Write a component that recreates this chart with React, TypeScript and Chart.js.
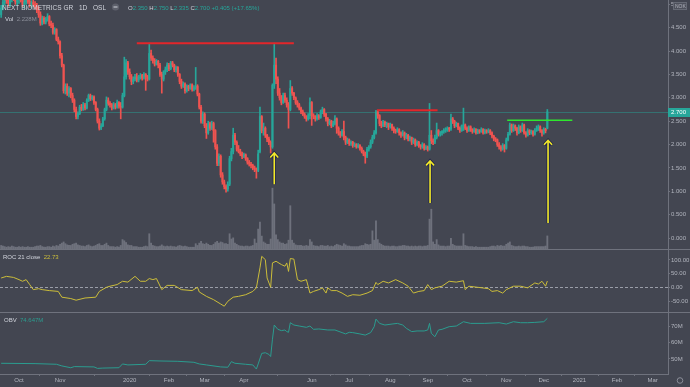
import React, { useEffect, useRef } from 'react';
import { Chart, registerables } from 'chart.js';

Chart.register(...registerables);

// ---- data (bar index 0 = first trading day of Oct 2019) ----
const firstIndex = -10;

const opens = [
  4.78, 4.92, 5.05, 5.12, 5.08, 5.02, 5.10, 5.22, 5.12, 5.05,
  5.10, 5.15, 5.08, 5.00, 5.05, 5.12, 5.06, 4.98, 5.04, 5.00,
  4.95, 4.88, 4.78, 4.60, 4.70, 4.62, 4.68, 4.74, 4.58, 4.55,
  4.40, 4.46, 4.25, 4.20, 3.90, 3.70, 3.15, 3.25, 3.10, 3.20,
  3.05, 2.95, 2.75, 2.60, 2.66, 2.80, 2.75, 2.85, 2.78, 2.95,
  3.05, 2.98, 3.02, 2.90, 2.75, 2.50, 2.35, 2.40, 2.55, 2.75,
  2.95, 2.88, 2.85, 2.78, 2.85, 2.80, 2.90, 2.82, 2.80, 3.05,
  3.45, 3.75, 3.55, 3.45, 3.35, 3.40, 3.45, 3.38, 3.44, 3.48,
  3.42, 3.50, 3.45, 3.40, 3.95, 3.85, 3.80, 3.72, 3.78, 3.70,
  3.50, 3.40, 3.55, 3.60, 3.70, 3.62, 3.75, 3.70, 3.60, 3.65,
  3.50, 3.35, 3.25, 3.30, 3.15, 3.25, 3.20, 3.28, 3.18, 3.22,
  3.25, 3.08, 2.80, 2.50, 2.65, 2.40, 2.25, 2.45, 2.35, 2.45,
  2.30, 1.95, 1.60, 1.75, 1.35, 1.20, 1.10, 1.05, 1.15, 1.70,
  1.85, 2.20, 2.05, 1.90, 1.85, 1.80, 1.75, 1.78, 1.70, 1.62,
  1.58, 1.55, 1.50, 1.48, 1.45, 1.85, 2.60, 2.30, 2.35, 2.20,
  2.12, 2.05, 1.95, 3.27, 3.70, 3.40, 3.10, 3.00, 2.90, 3.05,
  2.95, 2.85, 2.75, 3.20, 3.10, 3.00, 2.90, 2.85, 2.78, 2.70,
  2.65, 2.60, 2.55, 2.62, 2.90, 2.62, 2.60, 2.55, 2.62, 2.58,
  2.70, 2.75, 2.65, 2.55, 2.45, 2.50, 2.40, 2.45, 2.55, 2.35,
  2.25, 2.20, 2.28, 2.15, 2.05, 2.10, 2.02, 2.05, 1.98, 2.00,
  1.95, 1.98, 1.92, 1.85, 1.80, 1.75, 1.90, 1.95, 2.05, 2.15,
  2.25, 2.70, 2.62, 2.45, 2.40, 2.48, 2.42, 2.45, 2.38, 2.43,
  2.35, 2.30, 2.28, 2.32, 2.25, 2.20, 2.25, 2.15, 2.20, 2.12,
  2.15, 2.05, 2.10, 2.00, 2.05, 1.98, 1.95, 2.00, 1.92, 1.95,
  1.90, 2.20, 2.08, 2.05, 2.15, 2.30, 2.22, 2.25, 2.28, 2.30,
  2.32, 2.35, 2.33, 2.55, 2.50, 2.40, 2.45, 2.35, 2.30, 2.40,
  2.42, 2.35, 2.30, 2.38, 2.32, 2.28, 2.32, 2.25, 2.30, 2.28,
  2.32, 2.25, 2.30, 2.27, 2.30, 2.25, 2.18, 2.12, 2.10, 2.00,
  1.95, 1.90, 1.98, 1.92, 2.10, 2.22, 2.42, 2.30, 2.40, 2.35,
  2.25, 2.38, 2.30, 2.42, 2.25, 2.20, 2.30, 2.25, 2.28, 2.22,
  2.30, 2.35, 2.38, 2.30, 2.25, 2.33, 2.35,
];

const highs = [
  4.98, 5.10, 5.20, 5.25, 5.18, 5.15, 5.30, 5.28, 5.20, 5.15,
  5.22, 5.25, 5.12, 5.10, 5.18, 5.20, 5.12, 5.08, 5.10, 5.06,
  5.02, 4.95, 4.84, 4.75, 4.74, 4.72, 4.80, 4.76, 4.64, 4.60,
  4.50, 4.48, 4.30, 4.22, 3.95, 3.72, 3.30, 3.30, 3.24, 3.22,
  3.10, 2.98, 2.80, 2.70, 2.84, 2.86, 2.90, 2.88, 2.98, 3.08,
  3.08, 3.05, 3.04, 2.92, 2.78, 2.55, 2.45, 2.58, 2.78, 3.02,
  3.00, 2.92, 2.88, 2.90, 2.88, 2.95, 2.92, 2.90, 3.10, 3.87,
  3.82, 3.78, 3.62, 3.50, 3.45, 3.50, 3.52, 3.48, 3.52, 3.50,
  3.54, 3.52, 3.48, 4.17, 4.02, 3.90, 3.84, 3.82, 3.80, 3.74,
  3.55, 3.58, 3.66, 3.75, 3.74, 3.78, 3.78, 3.72, 3.68, 3.67,
  3.52, 3.40, 3.34, 3.32, 3.28, 3.27, 3.30, 3.30, 3.26, 3.65,
  3.28, 3.10, 2.84, 2.70, 2.68, 2.45, 2.50, 2.48, 2.50, 2.48,
  2.32, 2.00, 1.80, 1.78, 1.40, 1.24, 1.14, 1.20, 1.75, 1.92,
  2.35, 2.24, 2.08, 1.98, 1.90, 1.84, 1.82, 1.80, 1.72, 1.66,
  1.62, 1.58, 1.54, 1.50, 1.88, 2.80, 2.62, 2.46, 2.38, 2.22,
  2.16, 2.08, 3.30, 4.17, 3.85, 3.45, 3.20, 3.05, 3.10, 3.10,
  3.00, 2.90, 3.37, 3.24, 3.12, 3.02, 2.94, 2.88, 2.80, 2.74,
  2.68, 2.62, 2.66, 3.00, 2.92, 2.66, 2.62, 2.66, 2.64, 2.74,
  2.80, 2.77, 2.67, 2.58, 2.54, 2.52, 2.50, 2.62, 2.57, 2.38,
  2.28, 2.32, 2.50, 2.18, 2.14, 2.12, 2.08, 2.07, 2.04, 2.02,
  2.02, 2.00, 1.95, 1.88, 1.84, 1.94, 1.98, 2.10, 2.20, 2.30,
  2.73, 2.72, 2.64, 2.50, 2.52, 2.50, 2.48, 2.46, 2.46, 2.44,
  2.38, 2.33, 2.36, 2.34, 2.27, 2.30, 2.27, 2.24, 2.22, 2.18,
  2.16, 2.14, 2.12, 2.08, 2.07, 2.00, 2.04, 2.02, 1.98, 1.97,
  2.88, 2.30, 2.12, 2.20, 2.46, 2.32, 2.28, 2.30, 2.34, 2.36,
  2.38, 2.37, 2.65, 2.58, 2.52, 2.48, 2.46, 2.38, 2.42, 2.78,
  2.44, 2.38, 2.40, 2.40, 2.34, 2.36, 2.34, 2.33, 2.32, 2.36,
  2.34, 2.33, 2.32, 2.34, 2.32, 2.27, 2.20, 2.15, 2.12, 2.04,
  1.98, 2.02, 2.00, 2.14, 2.26, 2.46, 2.44, 2.44, 2.42, 2.37,
  2.42, 2.40, 2.46, 2.44, 2.28, 2.34, 2.32, 2.31, 2.30, 2.34,
  2.40, 2.42, 2.40, 2.32, 2.36, 2.35, 2.75,
];

const lows = [
  4.72, 4.88, 4.98, 5.02, 4.96, 4.95, 5.05, 5.08, 5.00, 4.98,
  5.02, 5.05, 4.95, 4.92, 5.00, 5.02, 4.94, 4.92, 4.96, 4.90,
  4.82, 4.72, 4.55, 4.56, 4.58, 4.58, 4.64, 4.54, 4.50, 4.36,
  4.36, 4.22, 4.15, 3.85, 3.66, 3.10, 3.08, 3.05, 3.02, 3.00,
  2.90, 2.70, 2.55, 2.55, 2.64, 2.72, 2.73, 2.74, 2.76, 2.92,
  2.94, 2.95, 2.86, 2.72, 2.46, 2.31, 2.32, 2.38, 2.52, 2.72,
  2.84, 2.80, 2.74, 2.76, 2.76, 2.78, 2.78, 2.55, 2.78, 3.02,
  3.40, 3.50, 3.40, 3.28, 3.30, 3.36, 3.34, 3.34, 3.40, 3.38,
  3.40, 3.16, 3.36, 3.38, 3.80, 3.74, 3.68, 3.70, 3.64, 3.46,
  3.10, 3.36, 3.50, 3.56, 3.58, 3.60, 3.66, 3.56, 3.55, 3.46,
  3.30, 3.20, 3.22, 3.10, 3.12, 3.15, 3.18, 3.14, 3.15, 3.18,
  3.04, 2.76, 2.46, 2.45, 2.36, 2.13, 2.22, 2.30, 2.32, 2.05,
  1.90, 1.55, 1.55, 1.30, 1.15, 1.05, 0.98, 1.00, 1.12, 1.65,
  1.80, 2.00, 1.86, 1.82, 1.76, 1.70, 1.72, 1.66, 1.58, 1.54,
  1.50, 1.46, 1.42, 1.28, 1.42, 1.82, 2.25, 2.20, 2.15, 2.06,
  2.00, 1.82, 1.92, 3.20, 3.30, 3.05, 2.95, 2.85, 2.88, 2.90,
  2.80, 2.35, 2.72, 3.05, 2.96, 2.86, 2.80, 2.74, 2.66, 2.62,
  2.56, 2.50, 2.52, 2.55, 2.41, 2.55, 2.50, 2.52, 2.54, 2.56,
  2.66, 2.60, 2.50, 2.40, 2.42, 2.36, 2.38, 2.42, 2.24, 2.20,
  2.15, 2.18, 2.10, 2.00, 2.02, 1.98, 1.98, 1.94, 1.95, 1.92,
  1.93, 1.88, 1.82, 1.76, 1.60, 1.72, 1.86, 1.92, 2.02, 2.12,
  2.22, 2.56, 2.40, 2.36, 2.38, 2.38, 2.36, 2.32, 2.35, 2.30,
  2.25, 2.24, 2.26, 2.20, 2.15, 2.18, 2.10, 2.12, 2.08, 2.08,
  2.00, 2.02, 1.96, 1.97, 1.94, 1.90, 1.92, 1.88, 1.89, 1.86,
  1.88, 2.02, 2.00, 2.02, 2.12, 2.18, 2.18, 2.20, 2.24, 2.26,
  2.28, 2.28, 2.30, 2.45, 2.36, 2.38, 2.32, 2.26, 2.28, 2.30,
  2.32, 2.26, 2.28, 2.28, 2.24, 2.26, 2.22, 2.23, 2.24, 2.26,
  2.22, 2.23, 2.24, 2.25, 2.21, 2.14, 2.08, 2.06, 1.96, 1.90,
  1.86, 1.88, 1.84, 1.90, 2.08, 2.20, 2.26, 2.28, 2.30, 2.20,
  2.23, 2.26, 2.28, 2.22, 2.16, 2.18, 2.21, 2.22, 2.18, 2.20,
  2.28, 2.30, 2.26, 2.18, 2.22, 2.25, 2.335,
];

const closes = [
  4.92, 5.05, 5.12, 5.08, 5.02, 5.10, 5.22, 5.12, 5.05, 5.10,
  5.15, 5.08, 5.00, 5.05, 5.12, 5.06, 4.98, 5.04, 5.00, 4.95,
  4.88, 4.78, 4.60, 4.70, 4.62, 4.68, 4.74, 4.58, 4.55, 4.40,
  4.46, 4.25, 4.20, 3.90, 3.70, 3.15, 3.25, 3.10, 3.20, 3.05,
  2.95, 2.75, 2.60, 2.66, 2.80, 2.75, 2.85, 2.78, 2.95, 3.05,
  2.98, 3.02, 2.90, 2.75, 2.50, 2.35, 2.40, 2.55, 2.75, 2.95,
  2.88, 2.85, 2.78, 2.85, 2.80, 2.90, 2.82, 2.80, 3.05, 3.45,
  3.75, 3.55, 3.45, 3.35, 3.40, 3.45, 3.38, 3.44, 3.48, 3.42,
  3.50, 3.45, 3.40, 3.95, 3.85, 3.80, 3.72, 3.78, 3.70, 3.50,
  3.40, 3.55, 3.60, 3.70, 3.62, 3.75, 3.70, 3.60, 3.65, 3.50,
  3.35, 3.25, 3.30, 3.15, 3.25, 3.20, 3.28, 3.18, 3.22, 3.25,
  3.08, 2.80, 2.50, 2.65, 2.40, 2.25, 2.45, 2.35, 2.45, 2.30,
  1.95, 1.60, 1.75, 1.35, 1.20, 1.10, 1.05, 1.15, 1.70, 1.85,
  2.20, 2.05, 1.90, 1.85, 1.80, 1.75, 1.78, 1.70, 1.62, 1.58,
  1.55, 1.50, 1.48, 1.45, 1.80, 2.60, 2.30, 2.35, 2.20, 2.12,
  2.05, 1.95, 3.27, 3.70, 3.40, 3.10, 3.00, 2.90, 3.05, 2.95,
  2.85, 2.75, 3.20, 3.10, 3.00, 2.90, 2.85, 2.78, 2.70, 2.65,
  2.60, 2.55, 2.62, 2.90, 2.62, 2.60, 2.55, 2.62, 2.58, 2.70,
  2.75, 2.65, 2.55, 2.45, 2.50, 2.40, 2.45, 2.55, 2.35, 2.25,
  2.20, 2.28, 2.15, 2.05, 2.10, 2.02, 2.05, 1.98, 2.00, 1.95,
  1.98, 1.92, 1.85, 1.80, 1.75, 1.90, 1.95, 2.05, 2.15, 2.25,
  2.70, 2.62, 2.45, 2.40, 2.48, 2.42, 2.45, 2.38, 2.43, 2.35,
  2.30, 2.28, 2.32, 2.25, 2.20, 2.25, 2.15, 2.20, 2.12, 2.15,
  2.05, 2.10, 2.00, 2.05, 1.98, 1.95, 2.00, 1.92, 1.95, 1.90,
  2.20, 2.08, 2.05, 2.15, 2.30, 2.22, 2.25, 2.28, 2.30, 2.32,
  2.35, 2.33, 2.55, 2.50, 2.40, 2.45, 2.35, 2.30, 2.40, 2.42,
  2.35, 2.30, 2.38, 2.32, 2.28, 2.32, 2.25, 2.30, 2.28, 2.32,
  2.25, 2.30, 2.27, 2.30, 2.25, 2.18, 2.12, 2.10, 2.00, 1.95,
  1.90, 1.98, 1.92, 2.10, 2.22, 2.42, 2.30, 2.40, 2.35, 2.25,
  2.38, 2.30, 2.42, 2.25, 2.20, 2.30, 2.25, 2.28, 2.22, 2.30,
  2.35, 2.38, 2.30, 2.25, 2.33, 2.295, 2.70,
];

// volume, millions
const volumes = [
  0.6, 0.5, 0.4, 0.3, 0.4, 0.3, 0.5, 0.4, 0.3, 0.3,
  0.4, 0.3, 0.4, 0.3, 0.3, 0.4, 0.3, 0.3, 0.3, 0.4,
  0.5, 0.5, 0.6, 0.4, 0.3, 0.3, 0.4, 0.4, 0.3, 0.5,
  0.4, 0.6, 0.5, 0.8, 1.0, 1.2, 0.9, 0.7, 0.6, 0.6,
  0.8, 0.9, 1.0, 0.7, 0.6, 0.5, 0.5, 0.4, 0.6, 0.7,
  0.5, 0.4, 0.5, 0.6, 0.8, 0.9, 0.6, 0.6, 0.8, 1.0,
  0.6, 0.4, 0.4, 0.4, 0.3, 0.4, 0.3, 0.6, 1.6, 1.4,
  1.1, 0.7, 0.6, 0.6, 0.4, 0.4, 0.4, 0.3, 0.3, 0.3,
  0.4, 0.5, 0.4, 2.6, 1.0, 0.6, 0.5, 0.4, 0.4, 0.5,
  0.7, 0.5, 0.4, 0.5, 0.4, 0.5, 0.4, 0.4, 0.3, 0.5,
  0.6, 0.5, 0.4, 0.5, 0.4, 0.3, 0.3, 0.3, 0.3, 0.9,
  0.6, 1.0, 1.3, 0.9, 0.8, 1.0, 0.8, 0.6, 0.6, 0.8,
  1.1, 1.3, 1.0, 1.2, 1.1, 0.9, 0.9, 0.8, 2.6, 1.7,
  1.9, 1.0, 0.8, 0.6, 0.5, 0.5, 0.4, 0.5, 0.5, 0.4,
  0.5, 0.6, 1.7, 1.0, 3.4, 4.6, 2.2, 1.2, 1.0, 0.8,
  0.8, 1.7, 10.4, 7.7, 2.4, 1.6, 1.2, 1.0, 1.0, 0.8,
  0.9, 1.5, 7.4, 1.5, 1.0, 0.7, 0.6, 0.6, 0.6, 0.5,
  0.5, 0.6, 0.5, 1.6, 1.2, 0.6, 0.5, 0.5, 0.4, 0.6,
  0.6, 0.5, 0.5, 0.6, 0.4, 0.5, 0.4, 0.6, 0.8, 0.7,
  0.6, 0.5, 0.9, 0.7, 0.5, 0.5, 0.4, 0.4, 0.4, 0.4,
  0.4, 0.5, 0.6, 0.6, 0.9, 0.8, 0.7, 0.8, 3.1, 1.5,
  4.8, 1.6, 1.0, 0.8, 0.6, 0.5, 0.5, 0.5, 0.4, 0.5,
  0.5, 0.4, 0.4, 0.5, 0.5, 0.6, 0.6, 0.5, 0.5, 0.4,
  0.5, 0.4, 0.5, 0.4, 0.5, 0.5, 0.4, 0.5, 0.5, 0.6,
  5.1, 6.8, 1.2, 0.8, 1.6, 0.7, 0.5, 0.5, 0.5, 0.4,
  0.5, 0.5, 1.8, 0.8, 0.6, 0.5, 0.5, 0.5, 0.5, 2.6,
  0.6, 0.5, 0.4, 0.4, 0.4, 0.3, 0.4, 0.3, 0.3, 0.3,
  0.3, 0.3, 0.3, 0.3, 0.4, 0.5, 0.5, 0.4, 0.6, 0.5,
  0.6, 0.5, 0.5, 0.8, 1.0, 1.2, 0.6, 0.5, 0.4, 0.4,
  0.5, 0.4, 0.5, 0.5, 0.4, 0.4, 0.3, 0.3, 0.3, 0.4,
  0.4, 0.4, 0.4, 0.4, 0.4, 0.5, 2.228,
];

// ROC(21) of close, sampled at bar indices
const rocIdx = [
  -10, -7, -3, 0, 2, 4, 6, 8, 11, 13, 17, 22, 24, 29, 32, 37, 43, 45, 49, 51,
  55, 58, 61, 65, 68, 71, 73, 75, 77, 80, 83, 87, 91, 97, 100, 101, 105, 109, 113, 115,
  117, 120, 123, 127, 131, 133, 135, 136, 138, 139, 141, 142, 144, 147, 149, 150, 151, 152, 154, 156,
  158, 161, 163, 165, 168, 170, 172, 173, 175, 178, 181, 184, 187, 191, 195, 198, 200, 201, 204, 207,
  211, 215, 218, 221, 224, 227, 229, 231, 233, 237, 241, 245, 249, 250, 252, 257, 263, 265, 268, 271,
  273, 277, 281, 285, 289, 291, 293, 295, 296,
];
const rocValues = [
  34, 40, 36, 28, 22, 28, 10, -8.5, -5, -8.5, -12, -15, -36, -41, -47, -39, -36, -15, 0, 4,
  10, 22, 19, 40, 22, 22, 32, 28, 32, -8.5, 7, 7, -8.5, -12, 0, -17, -33, -45, -61, -69,
  -51, -36, -33, -27, -15, -2, 71, 113, 101, 34, 0, 89, 95, 83, 77, 89, 58, 105, 103, 28,
  22, 28, -21, -15, -8.5, -2, -21, -2, -12, -12, -21, -33, -27, -29, -21, -12, 18, 10, 22, 16,
  28, 16, 4, -21, -15, -12, 10, -8.5, -2, 4, 22, 19, 24, -8.5, 4, 0, -5, -15, -12, -21,
  -8.5, 4, 4, -2, 16, 12, 22, 4, 22.73,
];

// OBV, millions, sampled at bar indices
const obvIdx = [
  -10, 9, 21, 24, 29, 31, 42, 44, 47, 56, 58, 61, 71, 73, 79, 89, 98, 101, 105, 113,
  117, 119, 121, 127, 131, 133, 134, 136, 138, 140, 141, 142, 143, 145, 147, 149, 150, 151, 152, 154,
  157, 161, 163, 165, 168, 173, 177, 181, 183, 185, 187, 191, 194, 197, 199, 200, 202, 205, 209, 212,
  215, 217, 220, 223, 227, 229, 230, 231, 233, 235, 237, 241, 245, 249, 253, 261, 269, 273, 277, 281,
  285, 289, 294, 296,
];
const obvValues = [
  47.4, 47.2, 46.8, 45.8, 44.7, 45.4, 45.2, 44.3, 44.5, 44.7, 47.0, 46.4, 46.8, 49.0, 48.8, 48.6, 48.0, 47.0, 46.4, 45.2,
  45.0, 48.4, 47.4, 46.8, 46.4, 43.9, 47.0, 53.4, 53.8, 52.8, 51.5, 62.0, 70.6, 68.0, 67.2, 67.6, 66.6, 66.2, 72.0, 70.6,
  70.0, 69.2, 70.0, 68.0, 68.2, 67.6, 67.6, 66.0, 65.2, 66.2, 66.0, 65.2, 64.5, 66.0, 69.6, 74.2, 71.6, 70.6, 71.2, 71.6,
  70.6, 68.6, 66.6, 67.0, 67.0, 67.6, 71.6, 65.6, 63.5, 67.6, 68.0, 69.6, 70.0, 72.6, 71.6, 71.6, 72.0, 71.2, 72.6, 72.0,
  72.0, 72.2, 72.6, 74.647,
];

// time axis labels (bar index of first trading day of month)
const monthTickIdx = [0, 23, 62, 84, 104, 126, 164, 185, 208, 229, 251, 273, 294, 314, 335, 355];
const monthTickLabels = ['Oct', 'Nov', '2020', 'Feb', 'Mar', 'Apr', 'Jun', 'Jul', 'Aug', 'Sep', 'Oct', 'Nov', 'Dec', '2021', 'Feb', 'Mar'];
const visibleFrom = -10.64;
const visibleTo = 363.6;

const priceTicks = [0, 0.5, 1, 1.5, 2, 2.5, 3, 3.5, 4, 4.5, 5];
const rocTicks = [-50, 0, 50, 100];
const obvTicks = [50, 60, 70];

// drawn annotations (bar index / price)
const levelPrices = [4.17, 2.735, 2.52];
const levelFrom = [66, 200.5, 273.5];
const levelTo = [154, 234.5, 310];
const levelColors = ['#e3262a', '#e3262a', '#2ee62e'];
const arrowIdx = [143, 230.3, 296.4];
const arrowTip = [1.82, 1.65, 2.09];
const arrowTail = [1.15, 0.75, 0.32];

// ---- styles ----
const BG = '#434651';
const UP = '#26a69a';
const DOWN = '#ef5350';
const TEXT = '#d1d4dc';
const AXIS_TEXT = '#b2b5be';
const LINE = '#6f727d';
const ROC_COLOR = '#cbbd3a';
const OBV_COLOR = '#2b9c8f';
const FONT = '"Liberation Sans", Arial, sans-serif';

function zeroPad(s: any) {
  s.paddingLeft = 0;
  s.paddingRight = 0;
  s.paddingTop = 0;
  s.paddingBottom = 0;
}

function segs(ctx: CanvasRenderingContext2D, x: number, y: number, parts: [string, string][]) {
  let cx = x;
  for (const [t, c] of parts) {
    ctx.fillStyle = c;
    ctx.fillText(t, cx, y);
    cx += ctx.measureText(t).width;
  }
}

const overlayPlugin = {
  id: 'overlay',
  beforeDraw(chart: any) {
    const { ctx, width, height } = chart;
    ctx.save();
    ctx.fillStyle = BG;
    ctx.fillRect(0, 0, width, height);
    ctx.restore();
  },
  beforeDatasetsDraw(chart: any) {
    const { ctx, chartArea } = chart;
    const yP = chart.scales.yPrice;
    const yR = chart.scales.yRoc;
    ctx.save();
    const last = closes[closes.length - 1];
    const py = Math.round(yP.getPixelForValue(last)) + 0.5;
    ctx.strokeStyle = 'rgba(38,166,154,0.45)';
    ctx.lineWidth = 1;
    ctx.beginPath();
    ctx.moveTo(chartArea.left, py);
    ctx.lineTo(chartArea.right, py);
    ctx.stroke();
    const zy = Math.round(yR.getPixelForValue(0)) + 0.5;
    ctx.strokeStyle = '#9a9da8';
    ctx.setLineDash([3, 2]);
    ctx.beginPath();
    ctx.moveTo(chartArea.left, zy);
    ctx.lineTo(chartArea.right, zy);
    ctx.stroke();
    ctx.restore();
  },
  afterDatasetsDraw(chart: any) {
    const { ctx } = chart;
    const xs = chart.scales.x;
    const yP = chart.scales.yPrice;
    ctx.save();
    levelPrices.forEach((p, k) => {
      const y = yP.getPixelForValue(p);
      ctx.strokeStyle = levelColors[k];
      ctx.lineWidth = k === 2 ? 1.5 : 2;
      ctx.beginPath();
      ctx.moveTo(xs.getPixelForValue(levelFrom[k]), y);
      ctx.lineTo(xs.getPixelForValue(levelTo[k]), y);
      ctx.stroke();
    });
    arrowIdx.forEach((i, k) => {
      const x = xs.getPixelForValue(i);
      const yt = yP.getPixelForValue(arrowTip[k]);
      const yb = yP.getPixelForValue(arrowTail[k]);
      const passes: [string, number][] = [['#20244a', 3.2], ['#f2ea28', 1.6]];
      for (const [c, w] of passes) {
        ctx.strokeStyle = c;
        ctx.lineWidth = w;
        ctx.beginPath();
        ctx.moveTo(x, yb);
        ctx.lineTo(x, yt);
        ctx.moveTo(x - 4, yt + 4.5);
        ctx.lineTo(x, yt);
        ctx.lineTo(x + 4, yt + 4.5);
        ctx.stroke();
      }
    });
    ctx.restore();
  },
  afterDraw(chart: any) {
    const { ctx, chartArea, width } = chart;
    const yP = chart.scales.yPrice;
    const yR = chart.scales.yRoc;
    ctx.save();
    // pane separators
    ctx.strokeStyle = LINE;
    ctx.lineWidth = 1;
    for (const y of [yP.bottom, yR.bottom]) {
      const yy = Math.round(y) + 0.5;
      ctx.beginPath();
      ctx.moveTo(0, yy);
      ctx.lineTo(width, yy);
      ctx.stroke();
    }
    // last price label
    const last = closes[closes.length - 1];
    const py = yP.getPixelForValue(last);
    ctx.fillStyle = UP;
    ctx.fillRect(chartArea.right, Math.round(py) - 4, width - chartArea.right, 9);
    ctx.fillStyle = '#ffffff';
    ctx.font = `6px ${FONT}`;
    ctx.textBaseline = 'middle';
    ctx.fillText(last.toFixed(3), chartArea.right + 3, Math.round(py) + 0.5);
    // currency box
    ctx.fillStyle = '#4e515c';
    ctx.fillRect(673, 2, 14, 8);
    ctx.strokeStyle = '#666a75';
    ctx.strokeRect(673.5, 2.5, 13, 7);
    ctx.fillStyle = AXIS_TEXT;
    ctx.font = `5px ${FONT}`;
    ctx.fillText('NOK', 675, 6.5);
    // legends
    ctx.textBaseline = 'alphabetic';
    ctx.font = `6.5px ${FONT}`;
    segs(ctx, 2, 9.5, [['NEXT BIOMETRICS GR', TEXT]]);
    segs(ctx, 79, 9.5, [['1D', TEXT]]);
    segs(ctx, 93, 9.5, [['OSL', TEXT]]);
    ctx.fillStyle = '#5d606b';
    ctx.beginPath();
    ctx.arc(115.5, 7, 3.6, 0, Math.PI * 2);
    ctx.fill();
    ctx.strokeStyle = TEXT;
    ctx.beginPath();
    ctx.moveTo(113.5, 7);
    ctx.lineTo(117.5, 7);
    ctx.stroke();
    const n = closes.length;
    const o = opens[n - 1], h = highs[n - 1], l = lows[n - 1], c = closes[n - 1];
    const chg = c - closes[n - 2];
    const pct = (chg / closes[n - 2]) * 100;
    ctx.font = `6px ${FONT}`;
    segs(ctx, 128, 9.5, [
      ['O', TEXT], [o.toFixed(3), UP], [' H', TEXT], [h.toFixed(3), UP],
      [' L', TEXT], [l.toFixed(3), UP], [' C', TEXT], [c.toFixed(3), UP],
      [` +${chg.toFixed(3)} (+${pct.toFixed(2)}%)`, UP],
    ]);
    segs(ctx, 5, 21, [['Vol', TEXT], ['  ' + volumes[n - 1].toFixed(3) + 'M', '#8a8d98']]);
    segs(ctx, 3, 258.5, [['ROC 21 close', TEXT], ['  ' + rocValues[rocValues.length - 1].toFixed(2), ROC_COLOR]]);
    segs(ctx, 4, 322, [['OBV', TEXT], ['  ' + obvValues[obvValues.length - 1].toFixed(3) + 'M', OBV_COLOR]]);
    // settings glyph
    ctx.strokeStyle = '#8a8d98';
    ctx.beginPath();
    ctx.arc(680, 380.5, 2.8, 0, Math.PI * 2);
    ctx.stroke();
    ctx.restore();
  },
};

export default function App() {
  const ref = useRef<HTMLCanvasElement>(null);
  useEffect(() => {
    document.body.style.margin = '0';
    document.body.style.background = BG;
    const canvas = ref.current!;
    const idx = closes.map((_, k) => k + firstIndex);
    const colors = closes.map((c, k) => (c >= opens[k] ? UP : DOWN));
    const tickFont = { size: 6, family: FONT };
    const yAxisCommon = (weight: number, min: number, max: number, ticks: number[], fmt: (v: number) => string) => ({
      type: 'linear',
      position: 'right',
      stack: 'panes',
      stackWeight: weight,
      min,
      max,
      afterBuildTicks: (s: any) => { s.ticks = ticks.map((v) => ({ value: v })); },
      afterFit: (s: any) => { s.width = 22; zeroPad(s); },
      ticks: { color: AXIS_TEXT, font: tickFont, padding: 1, callback: (v: any) => fmt(Number(v)) },
      grid: { display: true, drawOnChartArea: false, drawTicks: true, tickLength: 2, color: LINE },
      border: { display: true, color: LINE },
    });
    const chart = new Chart(canvas, {
      type: 'bar',
      data: {
        datasets: [
          {
            type: 'bar', label: 'Volume', yAxisID: 'yVol',
            data: idx.map((x, k) => ({ x, y: volumes[k] })),
            backgroundColor: 'rgba(128,131,143,0.7)', barThickness: 1.2, grouped: false, order: 5,
          },
          {
            type: 'bar', label: 'Wick', yAxisID: 'yPrice',
            data: idx.map((x, k) => ({ x, y: [lows[k], highs[k]] })),
            backgroundColor: colors, barThickness: 1, grouped: false, order: 4,
          },
          {
            type: 'bar', label: 'Body', yAxisID: 'yPrice',
            data: idx.map((x, k) => ({ x, y: [opens[k], closes[k]] })),
            backgroundColor: colors, barThickness: 1.4, grouped: false, order: 3,
          },
          {
            type: 'line', label: 'ROC', yAxisID: 'yRoc',
            data: rocIdx.map((x, k) => ({ x, y: rocValues[k] })),
            borderColor: ROC_COLOR, borderWidth: 1, pointRadius: 0, tension: 0, order: 1,
          },
          {
            type: 'line', label: 'OBV', yAxisID: 'yObv',
            data: obvIdx.map((x, k) => ({ x, y: obvValues[k] })),
            borderColor: OBV_COLOR, borderWidth: 1, pointRadius: 0, tension: 0, order: 1,
          },
        ] as any,
      },
      options: {
        responsive: false,
        animation: false,
        events: [],
        layout: { padding: 0 },
        plugins: { legend: { display: false }, tooltip: { enabled: false } },
        scales: {
          x: {
            type: 'linear', position: 'bottom', min: visibleFrom, max: visibleTo, offset: false,
            afterBuildTicks: (s: any) => { s.ticks = monthTickIdx.map((v) => ({ value: v })); },
            afterFit: (s: any) => { s.height = 13; zeroPad(s); },
            ticks: {
              autoSkip: false, maxRotation: 0, padding: 1, color: AXIS_TEXT, font: tickFont,
              callback: (_v: any, i: number) => monthTickLabels[i] ?? '',
            },
            grid: { display: true, drawOnChartArea: false, drawTicks: true, tickLength: 2, color: LINE },
            border: { display: true, color: LINE },
          },
          yPrice: yAxisCommon(249, -0.235, 5.093, priceTicks, (v) => v.toFixed(3)),
          yRoc: yAxisCommon(63, -90.1, 139.8, rocTicks, (v) => v.toFixed(2)),
          yObv: yAxisCommon(62, 40.9, 78.5, obvTicks, (v) => `${v}M`),
          yVol: { type: 'linear', display: false, position: 'left', min: -21.4, max: 42.6 },
        } as any,
      },
      plugins: [overlayPlugin],
    } as any);
    return () => chart.destroy();
  }, []);
  return (
    <div style={{ width: 690, height: 387, position: 'relative', background: BG }}>
      <canvas ref={ref} width={690} height={387} style={{ display: 'block' }} />
    </div>
  );
}
